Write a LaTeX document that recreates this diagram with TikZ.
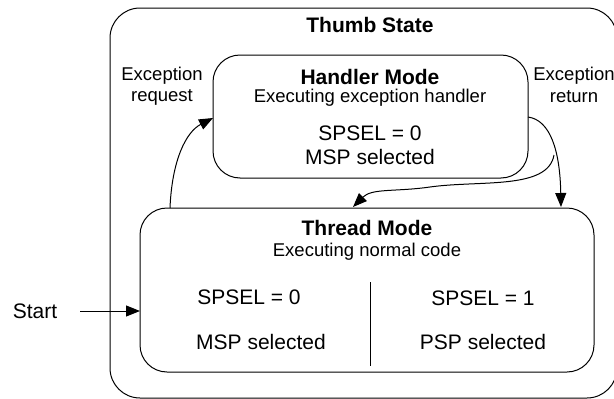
\documentclass[tikz,border=0pt]{standalone}
\usepackage{fontspec}
\setmainfont{Liberation Sans}
\usetikzlibrary{arrows.meta}
\begin{document}
\begin{tikzpicture}[x=1pt,y=-1pt,
  box/.style={draw,line width=1pt,rounded corners=27pt,inner sep=0pt},
  big/.style={font=\fontsize{21}{25}\selectfont,inner sep=0pt,anchor=center},
  bigb/.style={font=\fontsize{21}{25}\selectfont\bfseries,inner sep=0pt,anchor=center},
  small/.style={font=\fontsize{18.5}{22}\selectfont,inner sep=0pt,anchor=center},
  conn/.style={line width=1pt,-{Triangle[length=14pt,width=11pt]}},
  plain/.style={line width=1pt}]
\useasboundingbox (0,0) rectangle (614,399);
% outer
\draw[box,rounded corners=30pt] (110,8) rectangle (617,398);
\node[bigb] (title) at (370,25) {Thumb State};
% handler
\draw[box] (213,55) rectangle (528,178);
\coordinate (hL) at (213,118);
\coordinate (hR) at (528,117);
\node[bigb] (hm) at (370,77) {Handler Mode};
\node[small] (hm2) at (370,98) {Executing exception handler};
\node[big] (hm3) at (370,133) {SPSEL = 0};
\node[big] (hm4) at (370,157) {MSP selected};
% thread
\draw[box] (140,208) rectangle (594,372);
\coordinate (tA) at (170,208);
\coordinate (tB) at (353,207);
\coordinate (tC) at (561,207);
\coordinate (tL) at (140,311);
\node[bigb] (tm) at (367,228) {Thread Mode};
\node[small] (tm2) at (367,252) {Executing normal code};
\node[big] (s0) at (249,297) {SPSEL = 0};
\node[big] (m0) at (261,342) {MSP selected};
\node[big] (s1) at (483,298) {SPSEL = 1};
\node[big] (p1) at (483,342) {PSP selected};
\coordinate (dT) at (370,282);
\coordinate (dB) at (370,366);
\draw[plain] (dT) -- (dB);
% labels
\node[small] (er1) at (162,76) {Exception};
\node[small] (er2) at (162,97) {request};
\node[small] (et1) at (574,76) {Exception};
\node[small] (et2) at (574,97) {return};
\node[big] (start) at (35,311) {Start};
% arrows
\coordinate (sE) at (80,311);
\draw[conn] (sE) -- (tL);
\draw[conn] (tA) .. controls (172,160) and (186,132) .. (hL);
\draw[conn] (hR) .. controls (550,120) and (560,150) .. (tC);
\coordinate (br) at (554,155);
\draw[conn] (br) .. controls (548,190) and (480,180) .. (430,187)
  .. controls (395,192) and (372,188) .. (tB);
\end{tikzpicture}
\end{document}
